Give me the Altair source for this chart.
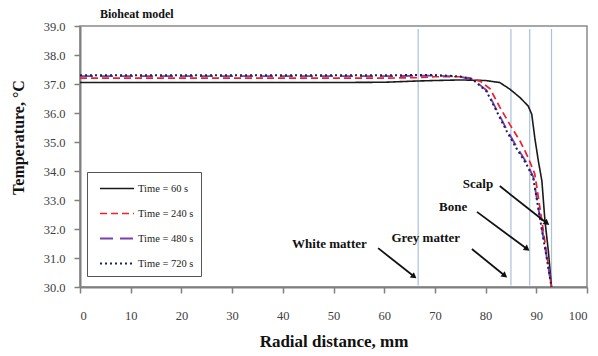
import altair as alt
import pandas as pd
import numpy as np

FONT = "Liberation Serif"

series_names = ["Time = 60 s", "Time = 240 s", "Time = 480 s", "Time = 720 s"]
series_colors = ["#1a1a1a", "#f0202a", "#7a3fb0", "#1f2250"]
series_dashes = [[1, 0], [7, 4], [13, 7], [2, 3]]
series_widths = [1.6, 2.0, 2.0, 2.0]

x60 = [0, 10, 20, 30, 40, 50, 60, 66, 70, 75, 80, 82.8, 84.8, 86.8, 88.4, 89.1, 89.7, 90.4, 91.1, 91.7, 92.4, 93.0]
y60 = [37.05, 37.05, 37.05, 37.05, 37.05, 37.05, 37.06, 37.1, 37.12, 37.14, 37.12, 37.05, 36.82, 36.53, 36.24, 35.96, 35.15, 34.35, 33.66, 32.3, 31.2, 30.0]

x240 = [0, 10, 20, 30, 40, 50, 60, 66, 70, 75, 77, 78.9, 80.9, 82.8, 84.8, 86.8, 88.4, 89.7, 91.0, 92.0, 93.0]
y240 = [37.2, 37.2, 37.2, 37.2, 37.2, 37.2, 37.2, 37.22, 37.25, 37.25, 37.2, 37.1, 36.83, 36.2, 35.6, 35.03, 34.46, 33.9, 32.4, 31.2, 30.0]

x480 = [0, 10, 20, 30, 40, 50, 60, 66, 70, 75, 77.5, 80.2, 82.2, 84.2, 86.1, 88.1, 89.4, 91.0, 92.0, 93.0]
y480 = [37.27, 37.27, 37.27, 37.27, 37.27, 37.27, 37.27, 37.28, 37.29, 37.25, 37.16, 36.78, 36.1, 35.42, 34.84, 34.28, 33.8, 32.1, 31.1, 30.0]

x720 = [0, 10, 20, 30, 40, 50, 60, 66, 70, 75, 77.5, 80.2, 82.2, 84.2, 86.1, 88.1, 89.4, 91.0, 92.0, 93.0]
y720 = [37.3, 37.3, 37.3, 37.3, 37.3, 37.3, 37.3, 37.31, 37.31, 37.26, 37.15, 36.74, 36.05, 35.36, 34.78, 34.22, 33.75, 32.08, 31.05, 30.0]

boundaries = [66.7, 85.0, 88.7, 93.0]

ann_text = ["White matter", "Grey matter", "Bone", "Scalp"]
ann_tx = [49.2, 68.2, 73.6, 78.5]
ann_ty = [31.48, 31.69, 32.76, 33.55]
arr_x1 = [58.8, 77.3, 78.3, 82.8]
arr_y1 = [31.34, 31.31, 32.59, 33.48]
arr_x2 = [65.9, 83.8, 88.2, 92.1]
arr_y2 = [30.36, 30.39, 31.31, 32.2]

W, H = 507, 261
XMIN, XMAX, YMIN, YMAX = 0, 100, 30, 39
px_per_x = W / (XMAX - XMIN)
px_per_y = H / (YMAX - YMIN)

rows = []
for name, xs, ys in zip(series_names, [x60, x240, x480, x720], [y60, y240, y480, y720]):
    for i, (a, b) in enumerate(zip(xs, ys)):
        rows.append({"series": name, "x": a, "y": b, "order": i})
df = pd.DataFrame(rows)

xscale = alt.Scale(domain=[XMIN, XMAX], nice=False, zero=False)
yscale = alt.Scale(domain=[YMIN, YMAX], nice=False, zero=False)

xaxis = alt.Axis(values=list(range(0, 101, 10)), title="Radial distance, mm", labelPadding=16,
                 tickSize=6, titlePadding=12, titleFontSize=17, titleFont=FONT, titleFontWeight="bold",
                 titleColor="#111")
yaxis = alt.Axis(values=list(range(30, 40)), format=".1f", title="Temperature, °C", labelPadding=9,
                 tickSize=6, titleFontSize=16, titleFont=FONT, titleFontWeight="bold",
                 titleColor="#111", titleX=-54, titleY=111, titleAngle=270, titleAlign="center",
                 titleBaseline="bottom")


def X(f):
    return alt.X(f, type="quantitative", scale=xscale, axis=xaxis)


def Y(f):
    return alt.Y(f, type="quantitative", scale=yscale, axis=yaxis)


vlines = alt.Chart(pd.DataFrame({"b": boundaries})).mark_rule(color="#a9c1d9", strokeWidth=1.2).encode(
    x=X("b"),
    y=alt.datum(30.05, scale=yscale, axis=yaxis),
    y2=alt.datum(38.9),
)

lines = alt.Chart(df).mark_line(strokeCap="butt").encode(
    x=X("x"),
    y=Y("y"),
    order="order:Q",
    color=alt.Color("series:N", sort=series_names,
                    scale=alt.Scale(domain=series_names, range=series_colors),
                    legend=alt.Legend(title=None, orient="none", legendX=7, legendY=146,
                                      symbolType="M-1,0H3", symbolSize=289, symbolStrokeWidth=1.8,
                                      symbolOffset=5, labelOffset=20, rowPadding=10, padding=7,
                                      labelFont=FONT, labelFontSize=10.5, labelColor="#222",
                                      strokeColor="#555", fillColor="white")),
    strokeDash=alt.StrokeDash("series:N", sort=series_names,
                              scale=alt.Scale(domain=series_names, range=series_dashes),
                              legend=None),
    strokeWidth=alt.StrokeWidth("series:N", scale=alt.Scale(domain=series_names, range=series_widths),
                                legend=None),
)

ann = pd.DataFrame({"t": ann_text, "tx": ann_tx, "ty": ann_ty, "x1": arr_x1, "y1": arr_y1,
                    "x2": arr_x2, "y2": arr_y2})
ann["angle"] = np.degrees(np.arctan2((ann["x2"] - ann["x1"]) * px_per_x,
                                     (ann["y2"] - ann["y1"]) * px_per_y)) % 360

texts = alt.Chart(ann).mark_text(font=FONT, fontSize=13, fontWeight="bold", color="#111").encode(
    x=X("tx"), y=Y("ty"), text="t:N")
shafts = alt.Chart(ann).mark_rule(color="#111", strokeWidth=1.8).encode(
    x=X("x1"), y=Y("y1"), x2="x2:Q", y2="y2:Q")
heads = alt.Chart(ann).mark_point(shape="triangle-up", filled=True, color="#111", size=45, opacity=1).encode(
    x=X("x2"), y=Y("y2"), angle=alt.Angle("angle:Q", scale=None))

chart = alt.layer(vlines, lines, shafts, heads, texts).properties(
    width=W, height=H,
    title=alt.TitleParams("Bioheat model", anchor="start", frame="group", dx=20, offset=-1, fontSize=12,
                          font=FONT, fontWeight="bold", color="#111"),
    autosize=alt.AutoSizeParams(type="none"),
    padding={"left": 80, "top": 26, "right": 11, "bottom": 69},
).configure_view(stroke="#8a8a8a", strokeWidth=1.5).configure_axis(
    grid=False, domainColor="#808080", domainWidth=2, tickColor="#808080", tickWidth=1.5,
    labelFont=FONT, labelFontSize=12.5, labelColor="#404040",
)

chart.save("out.html", embed_options={"renderer": "svg", "actions": False})
